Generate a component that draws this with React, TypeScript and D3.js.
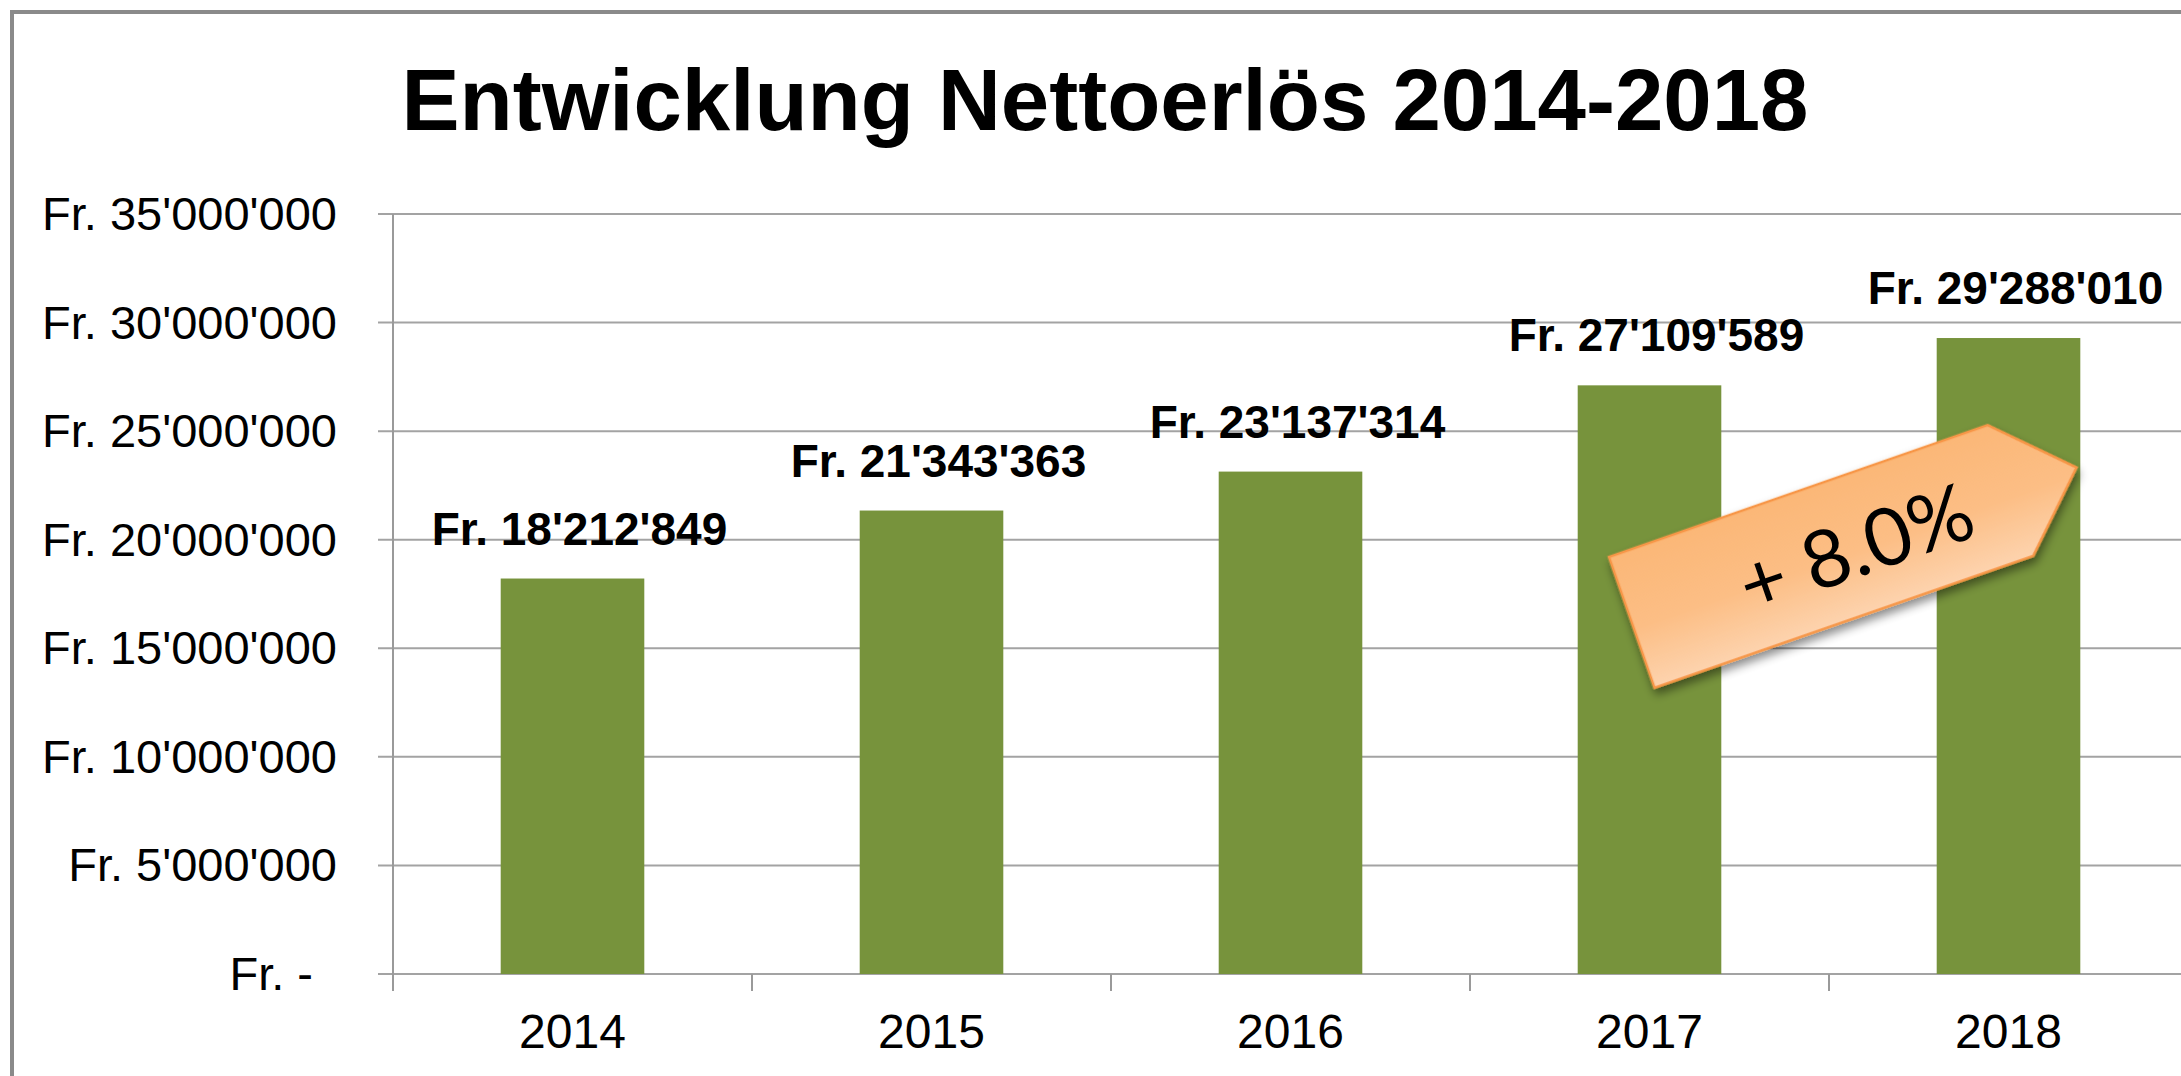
import React, { useEffect, useRef } from 'react';
import * as d3 from 'd3';

// data
const years = ['2014', '2015', '2016', '2017', '2018'];
const revenue = [18212849, 21343363, 23137314, 27109589, 29288010];
const yTicks = [0, 5000000, 10000000, 15000000, 20000000, 25000000, 30000000, 35000000];
const chartTitle = 'Entwicklung Nettoerlös 2014-2018';

const W = 2181;
const H = 1076;
const FONT = '"Liberation Sans", Arial, Helvetica, sans-serif';

const chf = d3.formatLocale({ decimal: '.', thousands: "'", grouping: [3], currency: ['Fr. ', ''] });
const fmt = (v: number) => (v === 0 ? 'Fr. -' : chf.format('$,')(v));

const App = () => {
  const ref = useRef<SVGSVGElement>(null);

  useEffect(() => {
    const svg = d3.select(ref.current);
    svg.selectAll('*').remove();

    const left = 393;
    const right = 2188;
    const top = 214;
    const bottom = 974;

    const x = d3.scaleBand().domain(years).range([left, right]).paddingInner(0.6).paddingOuter(0.3);
    const y = d3.scaleLinear().domain([0, 35000000]).range([bottom, top]);

    svg.append('rect').attr('width', W).attr('height', H).attr('fill', '#fff');

    // outer frame (right and bottom run off the picture)
    svg.append('rect')
      .attr('x', 12).attr('y', 12)
      .attr('width', W).attr('height', H)
      .attr('fill', 'none')
      .attr('stroke', '#8a8a8a')
      .attr('stroke-width', 4);

    // title
    svg.append('text')
      .attr('x', 1105).attr('y', 130)
      .attr('text-anchor', 'middle')
      .style('font-family', FONT)
      .style('font-size', '87px')
      .style('font-weight', 'bold')
      .text(chartTitle);

    // gridlines + y ticks
    svg.append('g').selectAll('line')
      .data(yTicks)
      .enter().append('line')
      .attr('x1', left - 15).attr('x2', right)
      .attr('y1', d => y(d)).attr('y2', d => y(d))
      .attr('stroke', '#a3a3a3')
      .attr('stroke-width', 2);

    // y labels
    svg.append('g').selectAll('text')
      .data(yTicks)
      .enter().append('text')
      .attr('x', d => (d === 0 ? 313 : 337))
      .attr('y', d => y(d) + 16)
      .attr('text-anchor', 'end')
      .style('font-family', FONT)
      .style('font-size', '47px')
      .text(d => fmt(d));

    // y axis line
    svg.append('line')
      .attr('x1', left).attr('x2', left)
      .attr('y1', top).attr('y2', bottom + 17)
      .attr('stroke', '#9a9a9a')
      .attr('stroke-width', 2);

    // x ticks at band edges
    const step = x.step();
    svg.append('g').selectAll('line')
      .data(d3.range(years.length + 1))
      .enter().append('line')
      .attr('x1', i => left + i * step).attr('x2', i => left + i * step)
      .attr('y1', bottom).attr('y2', bottom + 17)
      .attr('stroke', '#9a9a9a')
      .attr('stroke-width', 2);

    // bars
    svg.append('g').selectAll('rect')
      .data(revenue)
      .enter().append('rect')
      .attr('x', (d, i) => x(years[i]) as number)
      .attr('y', d => y(d))
      .attr('width', x.bandwidth())
      .attr('height', d => bottom - y(d))
      .attr('fill', '#77933c');

    // value labels
    svg.append('g').selectAll('text')
      .data(revenue)
      .enter().append('text')
      .attr('x', (d, i) => (x(years[i]) as number) + x.bandwidth() / 2 + 7)
      .attr('y', d => y(d) - 34)
      .attr('text-anchor', 'middle')
      .style('font-family', FONT)
      .style('font-size', '46px')
      .style('font-weight', 'bold')
      .text(d => fmt(d));

    // x labels
    svg.append('g').selectAll('text')
      .data(years)
      .enter().append('text')
      .attr('x', d => (x(d) as number) + x.bandwidth() / 2)
      .attr('y', 1048)
      .attr('text-anchor', 'middle')
      .style('font-family', FONT)
      .style('font-size', '48px')
      .text(d => d);

    // growth arrow
    const growth = revenue[4] / revenue[3] - 1;
    const defs = svg.append('defs');
    const grad = defs.append('linearGradient')
      .attr('id', 'arrow-fill')
      .attr('x1', 0).attr('y1', 0).attr('x2', 0).attr('y2', 1);
    grad.append('stop').attr('offset', '0%').attr('stop-color', '#fbb777');
    grad.append('stop').attr('offset', '55%').attr('stop-color', '#fcbe85');
    grad.append('stop').attr('offset', '100%').attr('stop-color', '#fdd3ae');

    const shadow = defs.append('filter')
      .attr('id', 'arrow-shadow')
      .attr('x', '-20%').attr('y', '-30%').attr('width', '140%').attr('height', '170%');
    shadow.append('feDropShadow')
      .attr('dx', 0).attr('dy', 6)
      .attr('stdDeviation', 5)
      .attr('flood-color', '#000')
      .attr('flood-opacity', 0.45);

    const bodyLen = 401;
    const bodyH = 138.5;
    const tipLen = 70;
    const arrow = svg.append('g')
      .attr('transform', 'translate(1609,557) rotate(-19.2)');

    arrow.append('path')
      .attr('d', `M0,0 L${bodyLen},0 L${bodyLen + tipLen},${bodyH / 2} L${bodyLen},${bodyH} L0,${bodyH} Z`)
      .attr('fill', 'url(#arrow-fill)')
      .attr('stroke', '#f79646')
      .attr('stroke-width', 2.5)
      .attr('stroke-linejoin', 'miter')
      .attr('filter', 'url(#arrow-shadow)');

    arrow.append('text')
      .attr('x', 236).attr('y', 101)
      .attr('text-anchor', 'middle')
      .style('font-family', 'Lato, "Open Sans", sans-serif')
      .style('font-size', '80px')
      .text('+ ' + d3.format('.1%')(growth));
  }, []);

  return (
    <svg
      ref={ref}
      width={W}
      height={H}
      style={{ position: 'absolute', left: 0, top: 0, display: 'block' }}
    />
  );
};

export default App;
